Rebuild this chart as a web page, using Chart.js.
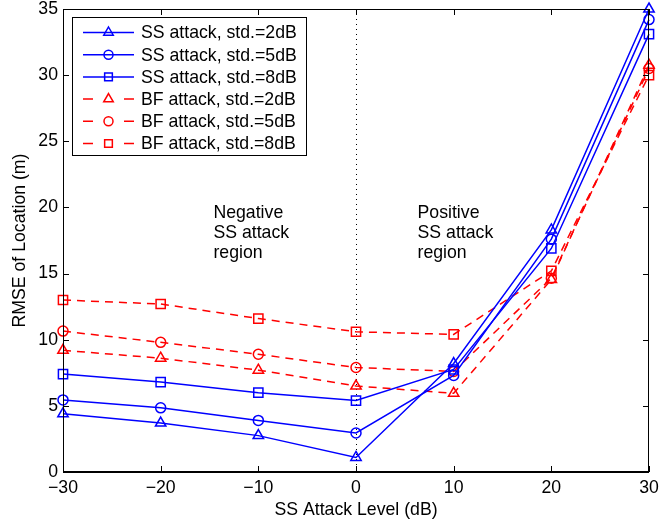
<!DOCTYPE html>
<html>
<head>
<meta charset="utf-8">
<script src="https://cdn.jsdelivr.net/npm/chart.js@4/dist/chart.umd.min.js"></script>
<style>
  html, body { margin: 0; padding: 0; background: #fff; }
</style>
</head>
<body>
<canvas id="chart" width="659" height="523"></canvas>
<script>
// values
const attackLevels = [-30, -20, -10, 0, 10, 20, 30];
const ssStd2 = [4.4, 3.7, 2.75, 1.1, 8.2, 18.3, 35.0];
const ssStd5 = [5.45, 4.85, 3.9, 2.95, 7.3, 17.6, 34.2];
const ssStd8 = [7.4, 6.8, 6.0, 5.4, 7.75, 16.9, 33.1];
const bfStd2 = [9.2, 8.6, 7.7, 6.5, 5.95, 14.55, 30.75];
const bfStd5 = [10.65, 9.8, 8.9, 7.9, 7.6, 14.65, 30.5];
const bfStd8 = [13.0, 12.7, 11.6, 10.6, 10.4, 15.2, 30.0];
const seriesLabels = [
  'SS attack, std.=2dB', 'SS attack, std.=5dB', 'SS attack, std.=8dB',
  'BF attack, std.=2dB', 'BF attack, std.=5dB', 'BF attack, std.=8dB'
];
const xTicks = [-30, -20, -10, 0, 10, 20, 30];
const yTicks = [0, 5, 10, 15, 20, 25, 30, 35];

const FONT = "'Liberation Sans', Arial, sans-serif";
const FSIZE = 17.7;
const BLUE = '#0000ff';
const RED = '#ff0000';

function series(label, values, color, style, radius, dashed) {
  return {
    label: label,
    data: values.map((v, i) => ({ x: attackLevels[i], y: v })),
    borderColor: color,
    borderWidth: 1.5,
    borderDash: dashed ? [8, 6] : [],
    pointStyle: style,
    pointRadius: radius,
    pointHoverRadius: radius,
    pointBorderColor: color,
    pointBackgroundColor: 'rgba(0,0,0,0)',
    pointBorderWidth: 1.5,
    tension: 0,
    fill: false,
    clip: false
  };
}

const datasets = [
  series(seriesLabels[0], ssStd2, BLUE, 'triangle', 6, false),
  series(seriesLabels[1], ssStd5, BLUE, 'circle', 5, false),
  series(seriesLabels[2], ssStd8, BLUE, 'rect', 6.5, false),
  series(seriesLabels[3], bfStd2, RED, 'triangle', 6, true),
  series(seriesLabels[4], bfStd5, RED, 'circle', 5, true),
  series(seriesLabels[5], bfStd8, RED, 'rect', 6.5, true)
];

// dotted line at 0 dB and region notes, behind the data
const backdrop = {
  id: 'backdrop',
  beforeDatasetsDraw(chart) {
    const { ctx, chartArea, scales } = chart;
    const x0 = Math.round(scales.x.getPixelForValue(0)) + 0.5;
    ctx.save();
    ctx.strokeStyle = '#000';
    ctx.lineWidth = 1;
    ctx.setLineDash([1, 4]);
    ctx.beginPath();
    ctx.moveTo(x0, chartArea.top);
    ctx.lineTo(x0, chartArea.bottom);
    ctx.stroke();
    ctx.setLineDash([]);

    ctx.fillStyle = '#000';
    ctx.font = FSIZE + 'px ' + FONT;
    ctx.textAlign = 'left';
    ctx.textBaseline = 'middle';
    const notes = [
      { x: -14.6, lines: ['Negative', 'SS attack', 'region'] },
      { x: 6.3, lines: ['Positive', 'SS attack', 'region'] }
    ];
    notes.forEach(n => {
      const px = scales.x.getPixelForValue(n.x);
      n.lines.forEach((t, i) => {
        ctx.fillText(t, px, scales.y.getPixelForValue(19.6) + i * 20);
      });
    });
    ctx.restore();
  }
};

function drawMarker(ctx, style, x, y, r) {
  ctx.beginPath();
  if (style === 'triangle') {
    ctx.moveTo(x, y - r);
    ctx.lineTo(x + r * 0.866, y + r * 0.5);
    ctx.lineTo(x - r * 0.866, y + r * 0.5);
    ctx.closePath();
  } else if (style === 'circle') {
    ctx.arc(x, y, r, 0, Math.PI * 2);
  } else {
    ctx.rect(x - r * 0.7, y - r * 0.7, r * 1.4, r * 1.4);
  }
  ctx.stroke();
}

// matlab style box, inward ticks and legend
const frame = {
  id: 'frame',
  afterDraw(chart) {
    const { ctx, chartArea, scales } = chart;
    const { left, right, top, bottom } = chartArea;
    ctx.save();
    ctx.strokeStyle = '#000';
    ctx.lineWidth = 1;
    ctx.strokeRect(left + 0.5, top + 0.5, right - left - 1, bottom - top);
    ctx.lineWidth = 2;
    ctx.beginPath();
    ctx.moveTo(left, bottom);
    ctx.lineTo(right, bottom);
    ctx.stroke();
    ctx.lineWidth = 1;
    ctx.beginPath();
    xTicks.forEach(v => {
      const px = Math.round(scales.x.getPixelForValue(v)) + 0.5;
      ctx.moveTo(px, bottom); ctx.lineTo(px, bottom - 6);
      ctx.moveTo(px, top); ctx.lineTo(px, top + 6);
    });
    yTicks.forEach(v => {
      const py = Math.round(scales.y.getPixelForValue(v)) + 0.5;
      ctx.moveTo(left, py); ctx.lineTo(left + 6, py);
      ctx.moveTo(right, py); ctx.lineTo(right - 6, py);
    });
    ctx.stroke();

    // legend
    const bx = 72, by = 17, bw = 234, bh = 138;
    ctx.fillStyle = '#fff';
    ctx.fillRect(bx, by, bw, bh);
    ctx.strokeStyle = '#000';
    ctx.strokeRect(bx + 0.5, by + 0.5, bw, bh);
    ctx.font = FSIZE + 'px ' + FONT;
    ctx.textAlign = 'left';
    ctx.textBaseline = 'middle';
    chart.data.datasets.forEach((ds, i) => {
      const y = 32.5 + i * 22.2;
      ctx.strokeStyle = ds.borderColor;
      ctx.lineWidth = 1.5;
      ctx.beginPath();
      if (ds.borderDash.length) {
        ctx.moveTo(83, y); ctx.lineTo(93, y);
        ctx.moveTo(124, y); ctx.lineTo(134, y);
      } else {
        ctx.moveTo(83, y); ctx.lineTo(134, y);
      }
      ctx.stroke();
      drawMarker(ctx, ds.pointStyle, 108.5, y, ds.pointStyle === 'circle' ? 4.5 : 5.5);
      ctx.fillStyle = '#000';
      ctx.fillText(ds.label, 141, y + 1);
    });
    ctx.restore();
  }
};

const fmt = v => String(v).replace('-', '\u2212');

new Chart(document.getElementById('chart').getContext('2d'), {
  type: 'line',
  data: { datasets: datasets },
  options: {
    responsive: false,
    animation: false,
    devicePixelRatio: 1,
    layout: { padding: { top: 9, right: 10, left: 0, bottom: 0 } },
    plugins: {
      legend: { display: false },
      tooltip: { enabled: false }
    },
    scales: {
      x: {
        type: 'linear',
        min: -30,
        max: 30,
        afterBuildTicks: s => { s.ticks = xTicks.map(v => ({ value: v })); },
        ticks: { color: '#000', font: { family: FONT, size: FSIZE }, padding: 5, maxRotation: 0, callback: fmt },
        grid: { display: false, drawTicks: false },
        border: { display: false },
        title: { display: true, text: 'SS Attack Level (dB)', color: '#000', font: { family: FONT, size: FSIZE }, padding: { top: 0, bottom: 2 } },
        afterFit: s => { s.height = 51; s.paddingLeft = 0; s.paddingRight = 0; }
      },
      y: {
        type: 'linear',
        min: 0,
        max: 35,
        afterBuildTicks: s => { s.ticks = yTicks.map(v => ({ value: v })); },
        ticks: { color: '#000', font: { family: FONT, size: FSIZE }, padding: 5 },
        grid: { display: false, drawTicks: false },
        border: { display: false },
        title: { display: true, text: 'RMSE of Location (m)', color: '#000', font: { family: FONT, size: FSIZE }, padding: { top: 9, bottom: 0 } },
        afterFit: s => { s.width = 63; s.paddingTop = 0; s.paddingBottom = 0; }
      }
    }
  },
  plugins: [backdrop, frame]
});
</script>
</body>
</html>
